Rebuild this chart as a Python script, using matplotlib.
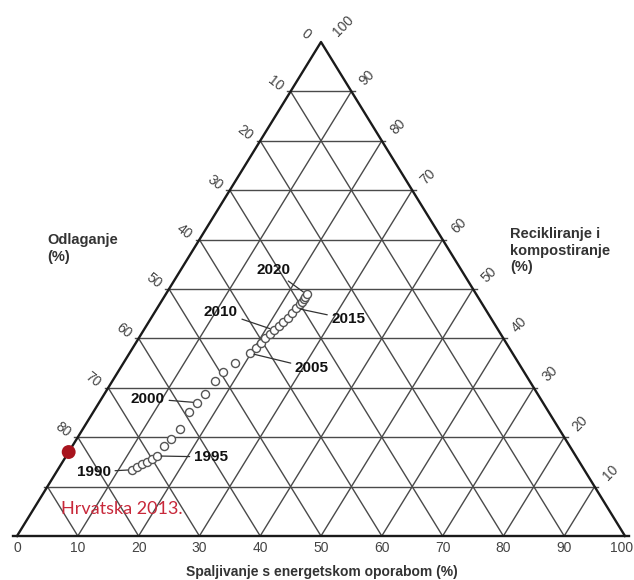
import numpy as np
import matplotlib
matplotlib.use("Agg")
import matplotlib.pyplot as plt

# ternary data: Spaljivanje (S), Recikliranje (R); Odlaganje = 100 - S - R
years = list(range(1990, 2021))
spal = [12.2, 12.7, 13.3, 13.9, 14.5, 14.9, 15.1, 15.6, 16.0, 15.7,
        16.1, 16.5, 16.9, 17.4, 18.4, 19.8, 20.3, 20.6, 20.8, 21.1,
        21.4, 21.8, 22.1, 22.4, 22.7, 22.9, 23.1, 23.2, 23.2, 23.2, 23.2]
recik = [13.4, 14.0, 14.5, 15.0, 15.5, 16.2, 18.2, 19.6, 21.7, 25.2,
         27.0, 28.7, 31.4, 33.1, 35.0, 37.0, 38.0, 39.0, 40.0, 40.9,
         41.7, 42.5, 43.3, 44.2, 45.1, 46.1, 47.0, 47.4, 47.9, 48.4, 48.9]
labeled_years = [1990, 1995, 2000, 2005, 2010, 2015, 2020]
label_offsets = [(-38, -2), (54, -1), (-49, 4), (62, -15), (-53, 18), (52, -11), (-33, 24)]

hr_spal, hr_recik = 0.0, 17.0
hr_label = "Hrvatska 2013."

ticks = list(range(0, 101, 10))
left_ticks = list(range(0, 81, 10))
right_ticks = list(range(10, 101, 10))

title_left = "Odlaganje\n(%)"
title_right = "Recikliranje i\nkompostiranje\n(%)"
title_bottom = "Spaljivanje s energetskom oporabom (%)"


def tern(s, r):
    s = np.asarray(s, dtype=float)
    r = np.asarray(r, dtype=float)
    return s + r / 2.0, r


W, H = 634, 580
fig = plt.figure(figsize=(W / 100, H / 100), dpi=100)
ax = fig.add_axes([0, 0, 1, 1])
px_x, px_y = 6.08, 4.94
ax.set_xlim(-17 / px_x, (W - 17) / px_x)
ax.set_ylim(-(H - 536) / px_y, 536 / px_y)
ax.axis("off")

plt.rcParams["font.family"] = ["Liberation Sans", "DejaVu Sans"]

grid_c = "#4a4a4a"
# grid lines
for k in range(10, 100, 10):
    # constant R (horizontal)
    x0, y0 = tern(0, k)
    x1, y1 = tern(100 - k, k)
    ax.plot([x0 - 0.6, x1 + 0.6], [y0, y1], color=grid_c, lw=1.0, zorder=1)
    # constant S (parallel to left edge)
    x0, y0 = tern(k, 0)
    x1, y1 = tern(k, 100 - k)
    ax.plot([x0, x1], [y0, y1], color=grid_c, lw=1.0, zorder=1)
    # constant L (parallel to right edge)
    x0, y0 = tern(100 - k, 0)
    x1, y1 = tern(0, 100 - k)
    ax.plot([x0, x1], [y0, y1], color=grid_c, lw=1.0, zorder=1)

# frame
cx, cy = tern([0, 100, 0, 0], [0, 0, 100, 0])
ax.plot(cx[1:], cy[1:], color="#1a1a1a", lw=1.7, zorder=2)
ax.plot([-0.7, 100.7], [0, 0], color="#1a1a1a", lw=1.7, zorder=2)

tick_kw = dict(fontsize=10, color="#444444", ha="center", va="center",
               textcoords="offset pixels")
for t in ticks:
    off = (-3, -12) if t == 100 else (0, -12)
    ax.annotate(str(t), tern(t, 0), xytext=off, **tick_kw)
for t in left_ticks:
    ax.annotate(str(t), tern(0, 100 - t), xytext=(-15, 8), rotation=-38, **tick_kw)
for t in right_ticks:
    off = (22, 16) if t == 100 else (16, 14)
    ax.annotate(str(t), tern(100 - t, t), xytext=off, rotation=45, **tick_kw)

# trajectory
px, py = tern(spal, recik)
ax.plot(px, py, ls="none", marker="o", ms=5.8, mfc="white", mec="#555555",
        mew=1.0, zorder=4)

for yr, off in zip(labeled_years, label_offsets):
    i = years.index(yr)
    ax.annotate(str(yr), (px[i], py[i]), xytext=off, textcoords="offset pixels",
                ha="center", va="center", fontsize=11, fontweight="bold",
                color="#111111", zorder=5,
                arrowprops=dict(arrowstyle="-", color="#333333", lw=0.9,
                                shrinkA=1, shrinkB=3))

# Croatia 2013
hx, hy = tern(hr_spal, hr_recik)
ax.scatter([hx], [hy], s=100, color="#a8141e", zorder=6, edgecolors="none")
ax.annotate(hr_label, (hx, hy), xytext=(-8, -57), textcoords="offset pixels",
            ha="left", va="center", fontsize=13, color="#c8283a",
            family=["Lato", "DejaVu Sans"], zorder=6)

fig.text(47 / W, 1 - 233 / H, title_left, ha="left", va="top",
         fontsize=10.5, fontweight="bold", color="#333333", linespacing=1.25)
fig.text(510 / W, 1 - 227 / H, title_right, ha="left", va="top",
         fontsize=10.5, fontweight="bold", color="#333333", linespacing=1.25)
fig.text(322 / W, 1 - 572 / H, title_bottom, ha="center", va="center",
         fontsize=10, fontweight="bold", color="#333333")

fig.savefig("out.png", dpi=100, facecolor="white")
